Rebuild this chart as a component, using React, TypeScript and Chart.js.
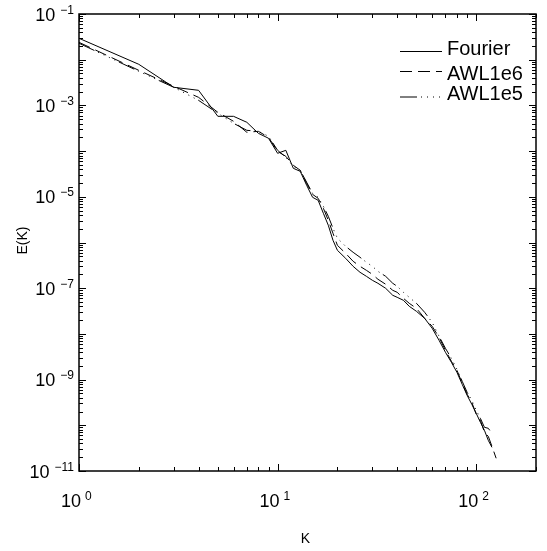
import React, { useEffect, useRef } from "react";
import { Chart, registerables } from "chart.js";

Chart.register(...registerables);

const W = 547;
const H = 551;
const FONT = '"Liberation Sans", Arial, Helvetica, sans-serif';

// Axis ranges
const xMin = 1;
const xMax = 200;
const yMin = 1e-11;
const yMax = 1e-1;
const xLabelExps = [0, 1, 2];
const yLabelExps = [-1, -3, -5, -7, -9, -11];
const xTitle = "K";
const yTitle = "E(K)";

// Series: Fourier (solid)
const fourierK = [1, 2, 3, 4, 5, 6, 7, 8, 9, 10, 11, 12, 13, 14, 15, 16, 17, 18, 19, 20, 22, 24, 26, 28, 30, 32, 35, 38, 40, 43, 46, 50, 55, 60, 65, 70, 75, 80, 85, 90, 95, 100, 105, 110, 115, 120];
const fourierE = [2.94e-2, 7.93e-3, 2.49e-3, 2.14e-3, 5.77e-4, 5.77e-4, 4.27e-4, 2.45e-4, 1.91e-4, 8.95e-5, 1.04e-4, 4.2e-5, 3.61e-5, 1.79e-5, 9.75e-6, 8.38e-6, 4.35e-6, 2.38e-6, 1.12e-6, 6.75e-7, 4.51e-7, 3.01e-7, 2.23e-7, 1.82e-7, 1.49e-7, 1.28e-7, 9.95e-8, 6.99e-8, 6.32e-8, 5.44e-8, 4.02e-8, 3.12e-8, 2.19e-8, 1.33e-8, 7.24e-9, 3.96e-9, 2.39e-9, 1.44e-9, 7.89e-10, 4.53e-10, 2.88e-10, 1.83e-10, 1.16e-10, 7.77e-11, 4.69e-11, 3.3e-11];

// Series: AWL1e6 (dashed)
const awl6K = [1, 2, 3, 4, 5, 6, 7, 8, 9, 10, 11, 12, 13, 14, 15, 16, 17, 18, 19, 20, 22, 24, 26, 28, 30, 32, 35, 38, 40, 43, 46, 50, 55, 60, 65, 70, 75, 80, 85, 90, 95, 100, 105, 110, 115, 120, 126];
const awl6E = [2.4e-2, 5.86e-3, 2.62e-3, 1.5e-3, 7.06e-4, 4.49e-4, 2.58e-4, 2.71e-4, 2.0e-4, 9.9e-5, 7.69e-5, 4.89e-5, 3.8e-5, 1.97e-5, 1.13e-5, 9.27e-6, 5.6e-6, 3.06e-6, 1.59e-6, 8.68e-7, 5.8e-7, 3.88e-7, 3.01e-7, 2.46e-7, 2.01e-7, 1.57e-7, 1.22e-7, 8.99e-8, 8.13e-8, 6.01e-8, 4.67e-8, 3.63e-8, 2.19e-8, 1.47e-8, 8.43e-9, 4.38e-9, 2.51e-9, 1.6e-9, 8.3e-10, 4.77e-10, 3.19e-10, 1.74e-10, 1.29e-10, 7.03e-11, 5.74e-11, 3.47e-11, 1.9e-11];

// Series: AWL1e5 (dash-dot-dot)
const awl5K = [1, 2, 3, 4, 5, 6, 7, 8, 9, 10, 11, 12, 13, 14, 15, 16, 17, 18, 19, 20, 22, 24, 26, 28, 30, 32, 35, 38, 40, 43, 46, 50, 55, 60, 65, 70, 75, 80, 85, 90, 95, 100, 105, 110, 115, 120];
const awl5E = [2.29e-2, 5.57e-3, 2.49e-3, 1.29e-3, 6.72e-4, 4.06e-4, 2.85e-4, 2.71e-4, 2.11e-4, 1.04e-4, 7.31e-5, 4.65e-5, 3.8e-5, 2.08e-5, 1.19e-5, 9.75e-6, 6.2e-6, 3.74e-6, 2.05e-6, 1.24e-6, 8.26e-7, 6.1e-7, 4.75e-7, 3.69e-7, 3.01e-7, 2.34e-7, 1.82e-7, 1.28e-7, 1.1e-7, 8.13e-8, 6.32e-8, 4.67e-8, 2.97e-8, 1.79e-8, 8.86e-9, 4.84e-9, 2.92e-9, 1.68e-9, 9.18e-10, 5.27e-10, 3.52e-10, 2.13e-10, 1.42e-10, 9.04e-11, 8.6e-11, 6.68e-11];

const seriesNames = ["Fourier", "AWL1e6", "AWL1e5"];
const DASH_SOLID: number[] = [];
const DASH_DASHED = [12, 6];
const DASH_DOTS = [17, 4, 1, 5, 1, 5, 1, 5, 1, 4];
const dashes = [DASH_SOLID, DASH_DASHED, DASH_DOTS];

const toPoints = (ks: number[], es: number[]) => ks.map((k, i) => ({ x: k, y: es[i] }));

const MINUS = "\u2212";
const expText = (e: number) => (e < 0 ? MINUS + Math.abs(e) : String(e));

const framePlugin = {
  id: "idlFrame",
  afterDraw(chart: any) {
    const { ctx, chartArea: a, scales } = chart;
    const xs = scales.x;
    const ys = scales.y;
    ctx.save();
    ctx.setLineDash([]);
    ctx.strokeStyle = "#000";
    ctx.fillStyle = "#000";

    // frame
    ctx.lineWidth = 1.5;
    ctx.strokeRect(a.left, a.top, a.right - a.left, a.bottom - a.top);

    // ticks
    ctx.lineWidth = 1;
    ctx.beginPath();
    for (let d = 0; d <= 2; d++) {
      for (let m = 1; m <= 9; m++) {
        const v = m * Math.pow(10, d);
        if (v > xMax * 1.0001) break;
        const px = Math.round(xs.getPixelForValue(v)) + 0.5;
        const len = m === 1 ? 7 : 4;
        ctx.moveTo(px, a.bottom);
        ctx.lineTo(px, a.bottom - len);
        ctx.moveTo(px, a.top);
        ctx.lineTo(px, a.top + len);
      }
    }
    for (let d = -11; d <= -1; d++) {
      for (let m = 1; m <= 9; m++) {
        const v = m * Math.pow(10, d);
        if (v > yMax * 1.0001) break;
        const py = Math.round(ys.getPixelForValue(v)) + 0.5;
        const len = m === 1 ? 7 : 4;
        ctx.moveTo(a.left, py);
        ctx.lineTo(a.left + len, py);
        ctx.moveTo(a.right, py);
        ctx.lineTo(a.right - len, py);
      }
    }
    ctx.stroke();

    // y tick labels
    ctx.textBaseline = "alphabetic";
    for (const e of yLabelExps) {
      const py = ys.getPixelForValue(Math.pow(10, e));
      const rightEdge = a.left - 5;
      ctx.font = `12px ${FONT}`;
      ctx.textAlign = "right";
      const es = expText(e);
      const ew = ctx.measureText(es).width;
      ctx.fillText(es, rightEdge, py - 0.5);
      ctx.font = `18px ${FONT}`;
      ctx.fillText("10", rightEdge - ew - 5, py + 6.5);
    }

    // x tick labels
    for (const e of xLabelExps) {
      const px = xs.getPixelForValue(Math.pow(10, e));
      ctx.font = `18px ${FONT}`;
      ctx.textAlign = "right";
      ctx.fillText("10", px + 2, a.bottom + 36);
      ctx.font = `12px ${FONT}`;
      ctx.textAlign = "left";
      ctx.fillText(expText(e), px + 6, a.bottom + 29);
    }

    // axis titles
    ctx.font = `14px ${FONT}`;
    ctx.textAlign = "center";
    ctx.fillText(xTitle, (a.left + a.right) / 2 - 2, a.bottom + 72);
    ctx.save();
    ctx.translate(27, (a.top + a.bottom) / 2 - 2);
    ctx.rotate(-Math.PI / 2);
    ctx.fillText(yTitle, 0, 0);
    ctx.restore();

    // legend
    const lineY = [51, 71, 96.5];
    const textY = [55, 80, 100];
    ctx.font = `20px ${FONT}`;
    ctx.textAlign = "left";
    seriesNames.forEach((name, i) => {
      ctx.save();
      ctx.lineWidth = 1;
      ctx.setLineDash(dashes[i]);
      ctx.beginPath();
      ctx.moveTo(400, lineY[i] + 0.5);
      ctx.lineTo(442, lineY[i] + 0.5);
      ctx.stroke();
      ctx.restore();
      ctx.fillText(name, 447, textY[i]);
    });

    ctx.restore();
  },
};

export default function App() {
  const ref = useRef<HTMLCanvasElement | null>(null);

  useEffect(() => {
    if (!ref.current) return;
    const chart = new Chart(ref.current, {
      type: "line",
      data: {
        datasets: [
          { label: seriesNames[0], data: toPoints(fourierK, fourierE), borderDash: DASH_SOLID },
          { label: seriesNames[1], data: toPoints(awl6K, awl6E), borderDash: DASH_DASHED },
          { label: seriesNames[2], data: toPoints(awl5K, awl5E), borderDash: DASH_DOTS },
        ].map((d) => ({
          ...d,
          borderColor: "#000",
          backgroundColor: "#000",
          borderWidth: 1,
          pointRadius: 0,
          tension: 0,
          fill: false,
        })),
      },
      options: {
        responsive: false,
        maintainAspectRatio: false,
        animation: false,
        devicePixelRatio: 1,
        layout: { padding: { left: 79, right: 11, top: 14, bottom: 80 } },
        plugins: { legend: { display: false }, tooltip: { enabled: false } },
        scales: {
          x: { type: "logarithmic", min: xMin, max: xMax, display: false },
          y: { type: "logarithmic", min: yMin, max: yMax, display: false },
        },
      },
      plugins: [framePlugin],
    });
    return () => chart.destroy();
  }, []);

  return (
    <div style={{ position: "fixed", left: 0, top: 0, width: W, height: H, background: "#fff" }}>
      <canvas ref={ref} width={W} height={H} style={{ display: "block" }} />
    </div>
  );
}
